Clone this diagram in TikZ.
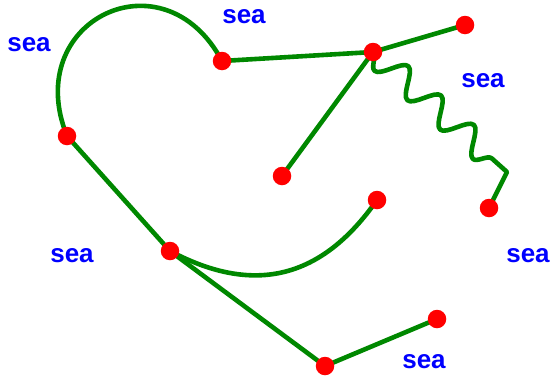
\documentclass[tikz,border=0pt]{standalone}
\usepackage{fontspec}
\setmainfont{Liberation Sans}
\usetikzlibrary{decorations.pathmorphing, backgrounds}
\definecolor{linegreen}{RGB}{0,136,0}
\tikzset{
  dot/.style={circle, fill=red, inner sep=0pt, minimum size=18.5pt},
  link/.style={draw=linegreen, line width=4.6pt},
  wave/.style={decoration={snake, mirror, segment length=44pt, amplitude=13pt}},
  sealabel/.style={text=blue, font=\fontsize{26}{28}\selectfont\bfseries, inner sep=0pt},
}
\begin{document}
\begin{tikzpicture}[x=1pt, y=1pt]
\useasboundingbox (0,0) rectangle (551,-375);

% points
\node[dot] (A) at (222,-61) {};
\node[dot] (B) at (373,-52) {};
\node[dot] (C) at (465,-25) {};
\node[dot] (D) at (282,-176) {};
\node[dot] (E) at (489,-208) {};
\node[dot] (F) at (67,-136) {};
\node[dot] (G) at (170,-251) {};
\node[dot] (H) at (377,-200) {};
\node[dot] (I) at (437,-319) {};
\node[dot] (J) at (325,-366) {};
% where the wiggles stop and the last straight piece begins
\coordinate (W) at (507,-172);

% connectors behind the points
\begin{scope}[on background layer]
  \draw[link] (A.center) to[out=118, in=112, looseness=1.85] (F.center);
  \draw[link] (A.center) -- (B.center);
  \draw[link] (B.center) -- (C.center);
  \draw[link] (B.center) -- (D.center);
  \draw[link, line join=round] (B.center) decorate[wave] {-- (W)} -- (E.center);
  \draw[link] (F.center) -- (G.center);
  \draw[link] (G.center) -- (J.center);
  \draw[link] (J.center) -- (I.center);
  \draw[link] (G.center) to[out=-28, in=-125, looseness=1.15] (H.center);
\end{scope}

% labels
\node[sealabel] (s1) at (244,-17) {sea};
\node[sealabel] (s2) at (29,-45) {sea};
\node[sealabel] (s3) at (483,-81) {sea};
\node[sealabel] (s4) at (72,-256) {sea};
\node[sealabel] (s5) at (528,-256) {sea};
\node[sealabel] (s6) at (424,-362) {sea};
\end{tikzpicture}
\end{document}
